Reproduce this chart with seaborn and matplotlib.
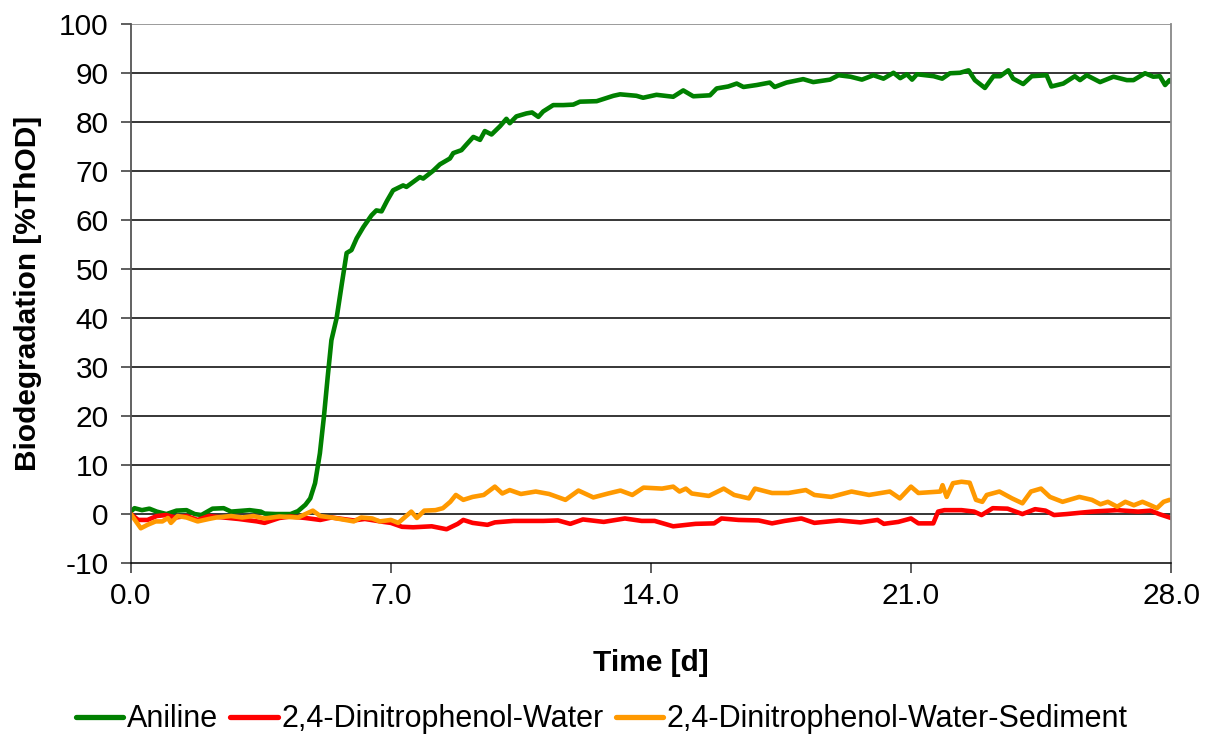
import pandas as pd
import matplotlib
matplotlib.use('Agg')
import matplotlib.pyplot as plt
import seaborn as sns

# Aniline (green)
aniline_t = [0, 0.1, 0.3, 0.5, 0.7, 0.96, 1.23, 1.5, 1.72, 1.9, 2.2, 2.5, 2.7, 3.2, 3.5, 3.6, 3.9, 4.3,
             4.5, 4.7, 4.83, 4.96, 5.09, 5.2, 5.3, 5.40, 5.54, 5.68, 5.81, 5.94, 6.08, 6.26, 6.48, 6.61,
             6.75, 6.9, 7.06, 7.33, 7.42, 7.6, 7.78, 7.87, 8.14, 8.32, 8.59, 8.68, 8.90, 9.04, 9.22, 9.40,
             9.53, 9.71, 9.94, 10.11, 10.2, 10.38, 10.65, 10.8, 10.97, 11.10, 11.37, 11.64, 11.91, 12.09,
             12.54, 12.99, 13.17, 13.61, 13.79, 14.15, 14.6, 14.87, 15.14, 15.59, 15.77, 16.08, 16.31,
             16.49, 16.85, 17.20, 17.33, 17.65, 18.10, 18.37, 18.82, 19.05, 19.37, 19.68, 19.99, 20.26,
             20.53, 20.71, 20.89, 21.03, 21.16, 21.61, 21.84, 22.05, 22.32, 22.55, 22.72, 22.99, 23.22,
             23.40, 23.62, 23.75, 24.02, 24.25, 24.65, 24.78, 25.10, 25.41, 25.55, 25.73, 26.09, 26.45,
             26.81, 26.99, 27.30, 27.52, 27.70, 27.84, 27.96, 28.0]
aniline_v = [0.5, 1.2, 0.8, 1.1, 0.5, 0.0, 0.7, 0.8, 0.0, -0.2, 1.1, 1.2, 0.5, 0.8, 0.5, 0.1, 0.0, 0.0,
             0.6, 1.9, 3.2, 6.3, 12.4, 20, 28, 35.5, 40, 47, 53.3, 53.9, 56.3, 58.6, 61, 62,
             61.8, 64, 66.1, 67.1, 66.8, 67.8, 68.8, 68.5, 70.1, 71.4, 72.6, 73.7, 74.3, 75.5, 77, 76.4,
             78.2, 77.5, 79.2, 80.7, 79.8, 81.2, 81.8, 82, 81.1, 82.2, 83.5, 83.5, 83.6, 84.2,
             84.3, 85.4, 85.7, 85.4, 85.0, 85.6, 85.2, 86.5, 85.3, 85.5, 86.9, 87.3, 87.9,
             87.2, 87.6, 88.1, 87.2, 88.1, 88.8, 88.2, 88.7, 89.6, 89.3, 88.7, 89.6, 88.9,
             90.1, 89.0, 89.8, 88.7, 89.8, 89.4, 88.9, 90.0, 90.1, 90.6, 88.6, 87.0, 89.4,
             89.4, 90.6, 88.9, 87.8, 89.4, 89.6, 87.3, 87.9, 89.4, 88.6, 89.6, 88.2, 89.3,
             88.6, 88.6, 90.0, 89.3, 89.4, 87.6, 88.6, 88.3]

# 2,4-Dinitrophenol-Water (red)
dnp_water_t = [0, 0.2, 0.45, 0.7, 0.95, 1.2, 1.5, 1.8, 2.1, 2.5, 2.9, 3.4, 3.6, 4.0, 4.3, 4.7, 5.1, 5.4,
               6.0, 6.3, 6.8, 7.0, 7.3, 7.6, 8.1, 8.5, 8.8, 8.95, 9.2, 9.6, 9.8, 10.3, 10.7, 11.1, 11.5,
               11.83, 12.17, 12.73, 13.3, 13.75, 14.1, 14.6, 15.2, 15.7, 15.9, 16.36, 16.9, 17.26, 17.6,
               18.05, 18.4, 19.07, 19.64, 20.1, 20.27, 20.66, 21.0, 21.2, 21.6, 21.73, 21.9, 22.36, 22.7,
               22.9, 23.2, 23.6, 24.0, 24.34, 24.62, 24.85, 25.19, 25.87, 26.55, 27.11, 27.45, 27.68,
               27.96, 28.0]
dnp_water_v = [0, -1.2, -1.2, -0.4, -0.2, -0.7, -0.4, -1.2, -0.4, -0.7, -1.0, -1.5, -1.8, -0.8, -0.5,
               -0.8, -1.2, -0.7, -1.3, -1.0, -1.6, -1.8, -2.6, -2.7, -2.5, -3.1, -2.0, -1.2, -1.8, -2.2,
               -1.7, -1.4, -1.4, -1.4, -1.3, -2.0, -1.1, -1.6, -0.9, -1.4, -1.4, -2.5, -2.0, -1.9, -0.9,
               -1.2, -1.3, -1.9, -1.4, -0.9, -1.8, -1.3, -1.7, -1.2, -2.0, -1.6, -0.9, -1.9, -1.9, 0.5,
               0.8, 0.8, 0.5, -0.2, 1.2, 1.1, 0.0, 1.0, 0.7, -0.2, 0.0, 0.5, 0.8, 0.5, 0.7, 0.0, -0.7, -0.8]

# 2,4-Dinitrophenol-Water-Sediment (orange)
dnp_sed_t = [0, 0.27, 0.45, 0.67, 0.85, 1.0, 1.08, 1.26, 1.5, 1.8, 2.1, 2.3, 2.7, 3.0, 3.3, 3.6, 4.0, 4.5,
             4.9, 5.1, 5.4, 6.0, 6.2, 6.5, 6.7, 7.0, 7.2, 7.55, 7.7, 7.9, 8.2, 8.4, 8.6, 8.75, 8.95, 9.2,
             9.5, 9.8, 10.0, 10.2, 10.5, 10.9, 11.26, 11.7, 12.05, 12.45, 12.85, 13.18, 13.5, 13.8, 14.3,
             14.6, 14.77, 14.94, 15.1, 15.56, 15.96, 16.24, 16.64, 16.8, 17.26, 17.7, 18.17, 18.4, 18.85,
             19.4, 19.87, 20.43, 20.7, 21.0, 21.2, 21.79, 21.85, 21.96, 22.13, 22.36, 22.58, 22.75, 22.92,
             23.04, 23.38, 23.72, 24.0, 24.23, 24.5, 24.74, 25.08, 25.53, 25.87, 26.1, 26.3, 26.55, 26.77,
             27.0, 27.23, 27.45, 27.62, 27.8, 27.96]
dnp_sed_v = [0, -2.9, -2.2, -1.5, -1.5, -0.8, -1.8, -0.4, -0.7, -1.5, -1.0, -0.7, -0.4, -0.7, -0.4, -0.9,
             -0.5, -0.7, 0.7, -0.4, -0.7, -1.5, -0.7, -0.9, -1.5, -1.2, -1.8, 0.5, -0.8, 0.7, 0.8, 1.2,
             2.5, 3.9, 2.9, 3.5, 3.9, 5.6, 4.2, 4.9, 4.1, 4.6, 4.1, 2.9, 4.8, 3.4, 4.2, 4.8, 3.9, 5.4,
             5.2, 5.6, 4.6, 5.2, 4.2, 3.7, 5.2, 3.9, 3.2, 5.2, 4.3, 4.3, 4.9, 3.9, 3.5, 4.6, 3.9, 4.6,
             3.2, 5.6, 4.3, 4.6, 5.9, 3.5, 6.3, 6.6, 6.4, 2.9, 2.5, 3.9, 4.6, 3.2, 2.2, 4.6, 5.2, 3.5,
             2.5, 3.5, 2.9, 2.0, 2.5, 1.5, 2.5, 1.8, 2.5, 1.8, 1.2, 2.5, 2.9]

series_names = ['Aniline', '2,4-Dinitrophenol-Water', '2,4-Dinitrophenol-Water-Sediment']
colors = ['#008000', '#FF0000', '#FF9900']
x_ticks = [0, 7, 14, 21, 28]
y_ticks = list(range(-10, 101, 10))

frames = []
for name, t, v in zip(series_names,
                      [aniline_t, dnp_water_t, dnp_sed_t],
                      [aniline_v, dnp_water_v, dnp_sed_v]):
    frames.append(pd.DataFrame({'Time': t, 'Value': v, 'Series': name}))
df = pd.concat(frames, ignore_index=True)

sns.set_theme(style='white')
plt.rcParams['font.family'] = ['Liberation Sans', 'DejaVu Sans']
plt.rcParams['text.color'] = 'black'
plt.rcParams['axes.labelcolor'] = 'black'
plt.rcParams['xtick.color'] = 'black'
plt.rcParams['ytick.color'] = 'black'

fig = plt.figure(figsize=(12.11, 7.36), dpi=100)
ax = fig.add_axes([0.108, 0.235, 0.859, 0.732])

sns.lineplot(data=df, x='Time', y='Value', hue='Series', hue_order=series_names,
             palette=colors, linewidth=3.3, sort=False, estimator=None, ax=ax, legend=False)

ax.set_xlim(0, 28)
ax.set_ylim(-10, 100)
ax.set_xticks(x_ticks)
ax.set_xticklabels([f'{x:.1f}' for x in x_ticks])
ax.set_yticks(y_ticks)
ax.set_yticklabels([str(y) for y in y_ticks])

# horizontal gridlines only
for y in y_ticks[1:]:
    ax.axhline(y, color='#808080' if y == 100 else '#000000', linewidth=1.1, zorder=0)

ax.spines['top'].set_visible(False)
ax.spines['left'].set_color('#555555')
ax.spines['left'].set_linewidth(1.3)
ax.spines['right'].set_color('#888888')
ax.spines['right'].set_linewidth(1.3)
ax.spines['bottom'].set_color('#000000')
ax.spines['bottom'].set_linewidth(1.1)

ax.tick_params(axis='y', direction='out', length=7, width=1.1, color='#333333',
               labelsize=21.5, pad=9, left=True)
ax.tick_params(axis='x', direction='out', length=7, width=1.1, color='#333333',
               labelsize=21.5, pad=7, bottom=True)

ax.set_xlabel('Time [d]', fontsize=21.5, fontweight='bold', labelpad=28)
ax.set_ylabel('Biodegradation [%ThOD]', fontsize=21.5, fontweight='bold', labelpad=12)

handles = [plt.Line2D([], [], color=c, linewidth=3.8) for c in colors]
fig.legend(handles, series_names, loc='lower center', bbox_to_anchor=(0.497, -0.035),
           ncol=3, frameon=False, fontsize=22, handlelength=1.55, handletextpad=0.12,
           columnspacing=0.4)

plt.savefig('out.png', dpi=100)
